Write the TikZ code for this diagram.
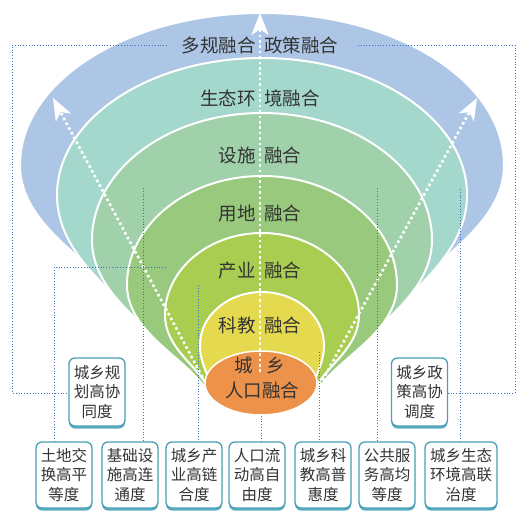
\documentclass[tikz,border=0pt]{standalone}
\usepackage{fontspec}
\setmainfont{Noto Sans CJK SC}
\usetikzlibrary{arrows.meta,shapes.geometric,shadows,calc}
\definecolor{blueL}{HTML}{AEC6E6}
\definecolor{tealL}{HTML}{A5D8CC}
\definecolor{lgreenL}{HTML}{A0D1AA}
\definecolor{greenL}{HTML}{98C97C}
\definecolor{ygreenL}{HTML}{A8CD50}
\definecolor{yellowL}{HTML}{E5D94F}
\definecolor{orangeL}{HTML}{ED924A}
\definecolor{dotc}{HTML}{3F6FC0}
\definecolor{boxc}{HTML}{4AA0B8}
\definecolor{shadc}{HTML}{5AAAC0}
\definecolor{txtc}{HTML}{333333}
\newcommand\MyLayer[6]{%
  \fill[#1, draw=white, line width=2pt]
  (#5,#6) .. controls ({#5-0.3*(#5-262+#3)},{#6-0.3*(#6-#4)}) and ({262-#3},{#4+0.45*(#6-#4)}) .. ({262-#3},#4)
  .. controls ({262-#3},{#4-0.5523*(#4-#2)}) and ({262-0.5523*#3},#2) .. (262,#2)
  .. controls ({262+0.5523*#3},#2) and ({262+#3},{#4-0.5523*(#4-#2)}) .. ({262+#3},#4)
  .. controls ({262+#3},{#4+0.45*(#6-#4)}) and ({524-#5+0.3*(#5-262+#3)},{#6-0.3*(#6-#4)}) .. ({524-#5},#6)
  -- cycle;}
\begin{document}
\begin{tikzpicture}[x=1pt,y=-1pt,
  lbl/.style={text=txtc, inner sep=0pt, font=\fontsize{18.5pt}{22pt}\selectfont},
  bdot/.style={draw=dotc, line width=1pt, dash pattern=on 1pt off 1.8pt},
  warrow/.style={draw=white, line width=2.6pt, dash pattern=on 2.6pt off 2.8pt, -{Stealth[length=22pt,width=17pt,inset=6pt,fill=white]}},
  boxst/.style={draw=boxc, line width=1.3pt, rounded corners=6pt, fill=white, align=center,
    inner sep=1pt, minimum width=56pt, minimum height=66pt, text=txtc,
    font=\fontsize{15.5pt}{19.5pt}\selectfont,
    general shadow={fill=shadc, shadow yshift=-2.5pt}}]
\useasboundingbox (0,0) rectangle (528,525);
% layers
\MyLayer{blueL}{13}{242}{165}{122}{300}
\MyLayer{tealL}{58}{205}{195}{152}{338}
\MyLayer{lgreenL}{113}{170}{240}{180}{364}
\MyLayer{greenL}{176}{135}{285}{203}{385}
\MyLayer{ygreenL}{233}{97}{315}{207}{385}
\MyLayer{yellowL}{292}{62}{345}{210}{383}
\node[ellipse, fill=orangeL, draw=white, line width=1.5pt, minimum width=112pt, minimum height=64pt, inner sep=0pt] (core) at (261,383) {};
% white dotted arrows
\coordinate (s0) at (260,372); \coordinate (e0) at (260,13);
\coordinate (s1) at (205,382); \coordinate (e1) at (53,98);
\coordinate (s2) at (320,385); \coordinate (e2) at (477,98);
\draw[warrow] (s0) -- (e0);
\draw[warrow] (s1) -- (e1);
\draw[warrow] (s2) -- (e2);
% layer labels
\node[lbl] (t1) at (260,45) {多规融合\hspace{9pt}政策融合};
\node[lbl] (t2) at (260,98) {生态环\hspace{9pt}境融合};
\node[lbl] (t3) at (260,155) {设施\hspace{9pt}融合};
\node[lbl] (t4) at (260,213) {用地\hspace{9pt}融合};
\node[lbl] (t5) at (260,271) {产业\hspace{9pt}融合};
\node[lbl] (t6) at (260,325) {科教\hspace{9pt}融合};
\node[lbl] (o1) at (260,365) {城\hspace{14pt}乡};
\node[lbl] (o2) at (262,390) {人口融合};
% boxes
\node[boxst, minimum height=68pt] (ul) at (97,392) {城乡规\\划高协\\同度};
\node[boxst, minimum height=68pt] (ur) at (419.5,392) {城乡政\\策高协\\调度};
\node[boxst] (b1) at (64,475) {土地交\\换高平\\等度};
\node[boxst] (b2) at (130,475) {基础设\\施高连\\通度};
\node[boxst] (b3) at (194,475) {城乡产\\业高链\\合度};
\node[boxst] (b4) at (257,475) {人口流\\动高自\\由度};
\node[boxst] (b5) at (323,475) {城乡科\\教高普\\惠度};
\node[boxst] (b6) at (387,475) {公共服\\务高均\\等度};
\node[boxst, minimum width=72pt] (b7) at (461,475) {城乡生态\\环境高联\\治度};
% blue dotted connectors
\coordinate (a1) at (167,45); \coordinate (a2) at (12,45); \coordinate (a3) at (12,393);
\coordinate (r1) at (358,45); \coordinate (r2) at (515,45); \coordinate (r3) at (515,393);
\coordinate (h1) at (166,267); \coordinate (h2) at (54,267);
\coordinate (v2) at (143,188);
\coordinate (v3) at (198,285);
\coordinate (v5) at (319,352);
\coordinate (v6) at (377,188);
\coordinate (v7) at (460,189);
\draw[bdot] (a1) -- (a2) -- (a3) -- (a3 -| ul.west);
\draw[bdot] (r1) -- (r2) -- (r3) -- (r3 -| ur.east);
\draw[bdot] (h1) -- (h2) -- (h2 |- b1.north);
\draw[bdot] (v2) -- (v2 |- b2.north);
\draw[bdot] (v3) -- (v3 |- b3.north);
\draw[bdot] (core.south) -- (core.south |- b4.north);
\draw[bdot] (v5) -- (v5 |- b5.north);
\draw[bdot] (v6) -- (v6 |- b6.north);
\draw[bdot] (v7) -- (v7 |- b7.north);
\end{tikzpicture}
\end{document}
